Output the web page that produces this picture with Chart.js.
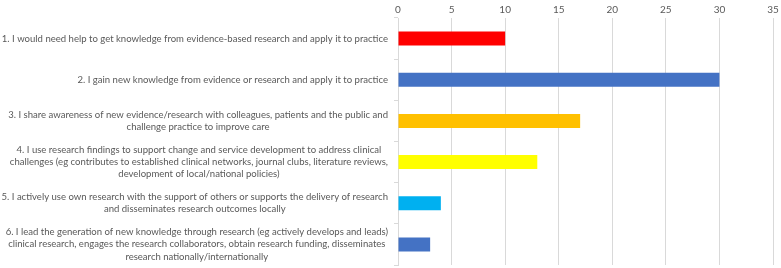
<!DOCTYPE html>
<html>
<head>
<meta charset="utf-8">
<script src="https://cdn.jsdelivr.net/npm/chart.js@4/dist/chart.umd.min.js"></script>
<style>
html,body{margin:0;padding:0;background:#fff;}
#wrap{width:781px;height:268px;position:relative;}
canvas{display:block;}
</style>
</head>
<body>
<div id="wrap"><canvas id="c" width="781" height="268"></canvas></div>
<script>
const categories = [
  ["1. I would need help to get knowledge from evidence-based research and apply it to practice"],
  ["2. I gain new knowledge from evidence or research and apply it to practice"],
  ["3. I share awareness of new evidence/research with colleagues, patients and the public and", "challenge practice to improve care"],
  ["4. I use research findings to support change and service development to address clinical", "challenges (eg contributes to established clinical networks, journal clubs, literature reviews,", "development of local/national policies)"],
  ["5. I actively use own research with the support of others or supports the delivery of research", "and disseminates research outcomes locally"],
  ["6. I lead the generation of new knowledge through research (eg actively develops and leads)", "clinical research, engages the research collaborators, obtain research funding, disseminates", "research nationally/internationally"]
];
const values = [10, 30, 17, 13, 4, 3];
const barColors = ["#FF0000", "#4472C4", "#FFC000", "#FFFF00", "#00B0F0", "#4472C4"];
const xMin = 0, xMax = 35, xStep = 5;

const FONT_FAMILY = "Lato, 'Liberation Sans', sans-serif";
const GRAY = "#595959";
const GRID = "#d9d9d9";

// fit label font size so widest line is ~387px
const mctx = document.createElement('canvas').getContext('2d');
mctx.font = "11px " + FONT_FAMILY;
let maxW = 0;
categories.forEach(ls => ls.forEach(l => { maxW = Math.max(maxW, mctx.measureText(l).width); }));
const labelSize = 11 * 387 / maxW;

const labelPlugin = {
  id: 'catLabels',
  afterDraw(chart) {
    const ctx = chart.ctx;
    const ys = chart.scales.y;
    const right = chart.chartArea.left - 10;
    ctx.save();
    ctx.font = labelSize.toFixed(2) + "px " + FONT_FAMILY;
    ctx.fillStyle = GRAY;
    ctx.textAlign = 'center';
    ctx.textBaseline = 'middle';
    const lh = 12.3;
    categories.forEach((lines, i) => {
      let w = 0;
      lines.forEach(l => { w = Math.max(w, ctx.measureText(l).width); });
      const cx = right - w / 2;
      const cy = ys.getPixelForValue(i);
      const y0 = cy - (lines.length - 1) * lh / 2;
      lines.forEach((l, j) => ctx.fillText(l, cx, y0 + j * lh));
    });
    ctx.restore();
  }
};

new Chart(document.getElementById('c'), {
  type: 'bar',
  data: {
    labels: categories,
    datasets: [{
      data: values,
      backgroundColor: barColors,
      borderWidth: 0,
      categoryPercentage: 1.0,
      barPercentage: 0.34
    }]
  },
  options: {
    indexAxis: 'y',
    responsive: false,
    animation: false,
    devicePixelRatio: 1,
    layout: { padding: { left: 0, right: 8, top: 0, bottom: 3 } },
    plugins: { legend: { display: false }, tooltip: { enabled: false } },
    scales: {
      x: {
        position: 'top',
        min: xMin, max: xMax,
        ticks: { stepSize: xStep, color: GRAY, font: { family: FONT_FAMILY, size: 10 }, padding: 2 },
        grid: { color: GRID, drawTicks: false },
        border: { display: false },
        afterFit(s) { s.height = 18; }
      },
      y: {
        ticks: { display: false },
        grid: { color: GRID, drawOnChartArea: false, drawTicks: true, tickLength: 4, offset: true },
        border: { display: true, color: GRID },
        afterFit(s) { s.width = 398; }
      }
    }
  },
  plugins: [labelPlugin]
});
</script>
</body>
</html>
